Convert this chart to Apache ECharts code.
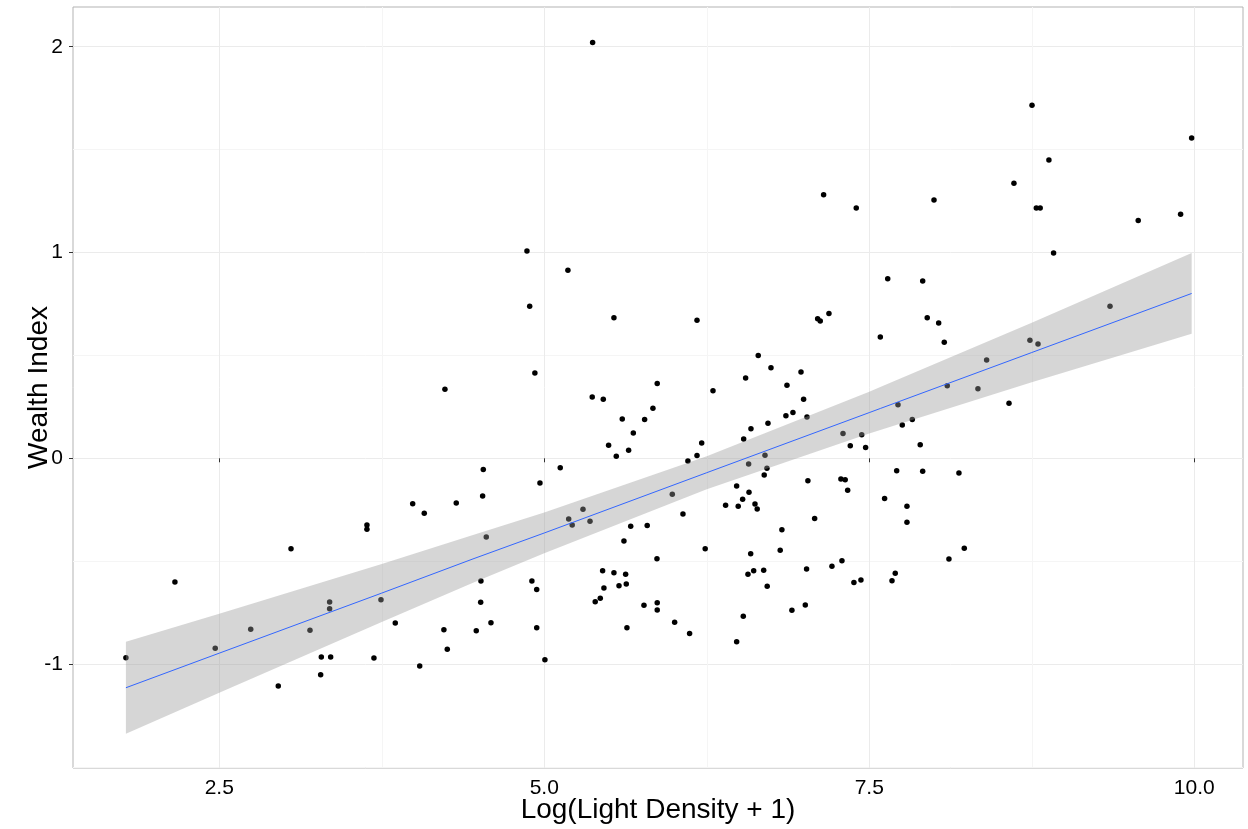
<!DOCTYPE html>
<html lang="en">

<head>
    <meta charset="UTF-8">
    <title>Wealth Index vs Light Density</title>
    <script src="https://cdn.jsdelivr.net/npm/echarts@6/dist/echarts.min.js"></script>
    <style>
        html, body { margin: 0; padding: 0; background: #fff; }
        #chart { width: 1248px; height: 829px; }
    </style>
</head>

<body>
    <div id="chart"></div>
    <script>
        // observed points: log(light density + 1) and wealth index
        var lightDensity = [
            1.782, 2.159, 2.469, 2.742, 2.954, 3.198, 3.280, 3.285, 3.349, 3.349,
            3.357, 3.636, 3.636, 3.690, 3.744, 3.854, 3.052, 3.988, 4.042, 4.077,
            4.236, 4.228, 4.254, 4.323, 4.477, 4.511, 4.513, 4.526, 4.531, 4.554,
            4.590, 4.867, 4.888, 4.905, 4.928, 4.942, 4.942, 4.967, 5.005, 5.123,
            5.188, 5.215, 5.182, 5.298, 5.352, 5.369, 5.372, 5.392, 5.431, 5.449,
            5.454, 5.495, 5.536, 5.554, 5.536, 5.459, 5.600, 5.613, 5.626, 5.631,
            5.636, 5.649, 5.665, 5.685, 5.575, 5.772, 5.767, 5.792, 5.836, 5.869,
            5.867, 5.869, 5.869, 5.985, 6.003, 6.067, 6.105, 6.118, 6.175, 6.175,
            6.211, 6.238, 6.298, 6.395, 6.480, 6.492, 6.480, 6.526, 6.531, 6.534,
            6.549, 6.567, 6.572, 6.575, 6.588, 6.590, 6.611, 6.621, 6.638, 6.646,
            6.688, 6.692, 6.698, 6.713, 6.715, 6.721, 6.744, 6.815, 6.828, 6.859,
            6.867, 6.905, 6.913, 6.975, 6.995, 7.008, 7.018, 7.021, 7.028, 7.080,
            7.103, 7.123, 7.149, 7.190, 7.213, 7.282, 7.290, 7.298, 7.315, 7.334,
            7.354, 7.382, 7.400, 7.436, 7.442, 7.472, 7.585, 7.618, 7.642, 7.675,
            7.700, 7.711, 7.721, 7.754, 7.790, 7.790, 7.831, 7.892, 7.911, 7.911,
            7.946, 7.998, 8.034, 8.077, 8.100, 8.113, 8.190, 8.231, 8.336, 8.403,
            8.575, 8.613, 8.736, 8.752, 8.785, 8.798, 8.815, 8.882, 8.918, 9.352,
            9.569, 9.895, 9.980
        ];
        var wealthIndex = [
            -0.969, -0.601, -0.923, -0.831, -1.106, -0.836, -1.052, -0.966, -0.698, -0.731,
            -0.966, -0.324, -0.345, -0.970, -0.687, -0.800, -0.439, -0.221, -1.009, -0.267,
            0.335, -0.833, -0.928, -0.217, -0.838, -0.700, -0.596, -0.183, -0.055, -0.382,
            -0.799, 1.007, 0.739, -0.596, 0.414, -0.638, -0.823, -0.120, -0.979, -0.046,
            -0.295, -0.324, 0.914, -0.248, -0.306, 0.298, 2.021, -0.697, -0.680, -0.546,
            0.287, 0.063, 0.683, 0.010, -0.556, -0.630, 0.191, -0.402, -0.564, -0.611,
            -0.823, 0.039, -0.330, 0.123, -0.619, 0.188, -0.714, -0.326, 0.243, 0.364,
            -0.488, -0.702, -0.737, -0.175, -0.797, -0.271, -0.013, -0.852, 0.671, 0.013,
            0.074, -0.439, 0.328, -0.228, -0.135, -0.233, -0.891, -0.199, -0.768, 0.094,
            0.390, -0.564, -0.028, -0.165, -0.464, 0.144, -0.546, -0.222, -0.246, 0.500,
            -0.544, -0.081, 0.015, -0.049, -0.622, 0.170, 0.440, -0.447, -0.347, 0.207,
            0.355, -0.739, 0.222, 0.419, 0.287, -0.713, -0.538, 0.201, -0.109, -0.292,
            0.678, 0.667, 1.281, 0.703, -0.525, -0.101, -0.498, 0.120, -0.104, -0.155,
            0.061, -0.603, 1.216, -0.591, 0.115, 0.052, 0.589, -0.196, 0.873, -0.595,
            -0.559, -0.060, 0.260, 0.162, -0.233, -0.311, 0.188, 0.066, 0.862, -0.063,
            0.683, 1.255, 0.657, 0.564, 0.353, -0.489, -0.071, -0.437, 0.338, 0.478,
            0.267, 1.336, 0.573, 1.715, 1.216, 0.555, 1.216, 1.449, 0.998, 0.739,
            1.155, 1.186, 1.556
        ];

        // fitted line and its confidence band
        var fitX = [1.782, 2.5, 3.75, 4.452, 5.0, 6.25, 7.5, 7.585, 8.75, 9.98];
        var fitY = [-1.115, -0.947, -0.655, -0.489, -0.363, -0.070, 0.222, 0.242, 0.514, 0.801];
        var bandUpper = [-0.891, -0.755, -0.514, -0.373, -0.264, 0.010, 0.323, 0.346, 0.659, 0.997];
        var bandLower = [-1.338, -1.139, -0.796, -0.605, -0.462, -0.151, 0.120, 0.138, 0.369, 0.605];

        var xTicks = [2.5, 5.0, 7.5, 10.0];
        var xMinorTicks = [3.75, 6.25, 8.75];
        var yTicks = [-1, 0, 1, 2];
        var yMinorTicks = [-1.5, -0.5, 0.5, 1.5];

        var FONT = 'Liberation Sans, Arial, sans-serif';
        var xRange = { min: 1.375, max: 10.375 };
        var yRange = { min: -1.505, max: 2.193 };

        var points = lightDensity.map(function (x, i) { return [x, wealthIndex[i]]; });
        var fitLine = fitX.map(function (x, i) { return [x, fitY[i]]; });

        var minorAxis = function (extra) {
            return Object.assign({
                gridIndex: 0,
                type: 'value',
                axisLine: { show: false },
                axisLabel: { show: false },
                splitLine: { show: true, lineStyle: { color: '#f5f5f5', width: 1 } }
            }, extra);
        };

        var option = {
            backgroundColor: '#fff',
            animation: false,
            grid: {
                left: 73,
                right: 5,
                top: 7,
                bottom: 61,
                containLabel: false,
                outerBoundsMode: 'none',
                show: true,
                borderColor: '#b3b3b3',
                borderWidth: 1,
                backgroundColor: '#fff'
            },
            xAxis: [
                {
                    type: 'value',
                    min: xRange.min,
                    max: xRange.max,
                    name: 'Log(Light Density + 1)',
                    nameLocation: 'middle',
                    nameGap: 28,
                    nameMoveOverlap: false,
                    nameTextStyle: { fontFamily: FONT, fontSize: 28, color: '#000' },
                    axisLine: { show: false },
                    axisTick: { show: true, length: 4, customValues: xTicks, lineStyle: { color: '#333' } },
                    axisLabel: {
                        customValues: xTicks,
                        margin: 10,
                        fontFamily: FONT,
                        fontSize: 21,
                        color: '#000',
                        formatter: function (v) { return v.toFixed(1); }
                    },
                    splitLine: { show: true, lineStyle: { color: '#ebebeb', width: 1 } }
                },
                minorAxis({
                    min: xRange.min,
                    max: xRange.max,
                    axisTick: { show: false, customValues: xMinorTicks }
                })
            ],
            yAxis: [
                {
                    type: 'value',
                    min: yRange.min,
                    max: yRange.max,
                    name: 'Wealth Index',
                    nameLocation: 'middle',
                    nameGap: 20,
                    nameMoveOverlap: false,
                    nameTextStyle: { fontFamily: FONT, fontSize: 28, color: '#000' },
                    axisLine: { show: false },
                    axisTick: { show: true, length: 4, customValues: yTicks, lineStyle: { color: '#333' } },
                    axisLabel: {
                        customValues: yTicks,
                        margin: 10,
                        fontFamily: FONT,
                        fontSize: 21,
                        color: '#000',
                        formatter: function (v) { return String(Math.round(v)); }
                    },
                    splitLine: { show: true, lineStyle: { color: '#ebebeb', width: 1 } }
                },
                minorAxis({
                    min: yRange.min,
                    max: yRange.max,
                    axisTick: { show: false, customValues: yMinorTicks }
                })
            ],
            series: [
                {
                    type: 'scatter',
                    data: points,
                    symbolSize: 5.5,
                    itemStyle: { color: '#000', opacity: 1 },
                    z: 2
                },
                {
                    // confidence ribbon, drawn over the points like ggplot does
                    type: 'custom',
                    data: [0],
                    z: 3,
                    silent: true,
                    renderItem: function (params, api) {
                        var pts = [];
                        for (var i = 0; i < fitX.length; i++) {
                            pts.push(api.coord([fitX[i], bandUpper[i]]));
                        }
                        for (var j = fitX.length - 1; j >= 0; j--) {
                            pts.push(api.coord([fitX[j], bandLower[j]]));
                        }
                        return {
                            type: 'polygon',
                            shape: { points: pts },
                            style: { fill: 'rgba(153,153,153,0.4)' }
                        };
                    }
                },
                {
                    type: 'line',
                    data: fitLine,
                    showSymbol: false,
                    lineStyle: { color: '#3366FF', width: 1 },
                    z: 4
                }
            ]
        };

        var chart = echarts.init(document.getElementById('chart'));
        chart.setOption(option);
    </script>
</body>

</html>
